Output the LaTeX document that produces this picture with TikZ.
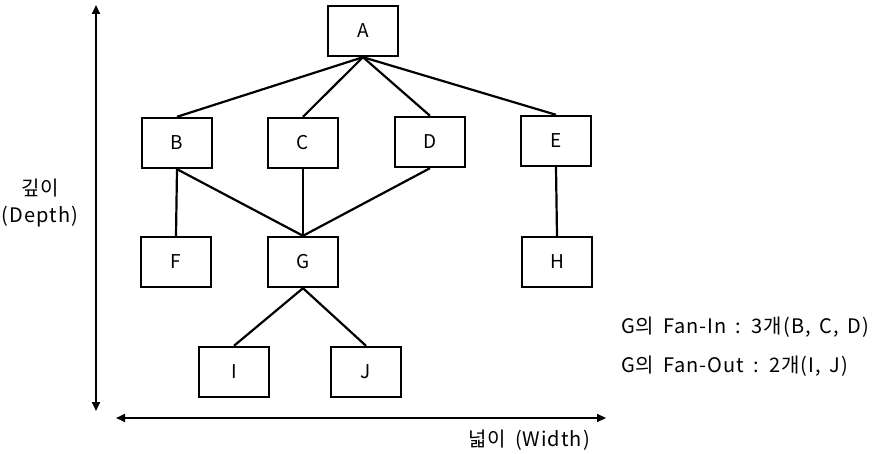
\documentclass[tikz,border=0pt]{standalone}
\usepackage{fontspec}
\setmainfont{Noto Sans CJK KR}[LetterSpace=5,WordSpace=1.6]
\usetikzlibrary{arrows.meta}
\begin{document}
\begin{tikzpicture}[x=1pt,y=-1pt,
  box/.style={draw,line width=2.4pt,minimum width=70pt,minimum height=50pt,inner sep=0pt,font=\fontsize{19}{22}\selectfont},
  edge/.style={line width=2.2pt},
  axis/.style={line width=2.2pt,{Triangle[length=9pt,width=8pt]}-{Triangle[length=9pt,width=8pt]}},
  lbl/.style={font=\fontsize{20}{27}\selectfont,inner sep=0pt}]
\useasboundingbox (0,0) rectangle (881,454);
\node[box] (A) at (363,31) {A};
\node[box] (B) at (177,143) {B};
\node[box] (C) at (303,143) {C};
\node[box] (D) at (430,142) {D};
\node[box] (E) at (556,141) {E};
\node[box] (F) at (176,262) {F};
\node[box] (G) at (303,262) {G};
\node[box] (H) at (557,262) {H};
\node[box] (I) at (234,372) {I};
\node[box] (J) at (366,372) {J};
\foreach \t in {B,C,D,E} \draw[edge] (A.south) -- (\t.north);
\draw[edge] (B.south) -- (F.north);
\foreach \s in {B,C,D} \draw[edge] (\s.south) -- (G.north);
\draw[edge] (E.south) -- (H.north);
\draw[edge] (G.south) -- (I.north);
\draw[edge] (G.south) -- (J.north);
\coordinate (vt) at (96,5);
\coordinate (vb) at (96,411);
\coordinate (hl) at (116,418);
\coordinate (hr) at (606,418);
\draw[axis] (vt) -- (vb);
\draw[axis] (hl) -- (hr);
\node[lbl,align=center] (depth) at (40,203) {깊이\\(Depth)};
\node[lbl,anchor=east] (width) at (590,440) {넓이 (Width)};
\node[lbl,anchor=west] (fin) at (621,327) {G의 Fan-In : 3개(B, C, D)};
\node[lbl,anchor=west] (fout) at (621,366) {G의 Fan-Out : 2개(I, J)};
\end{tikzpicture}
\end{document}
